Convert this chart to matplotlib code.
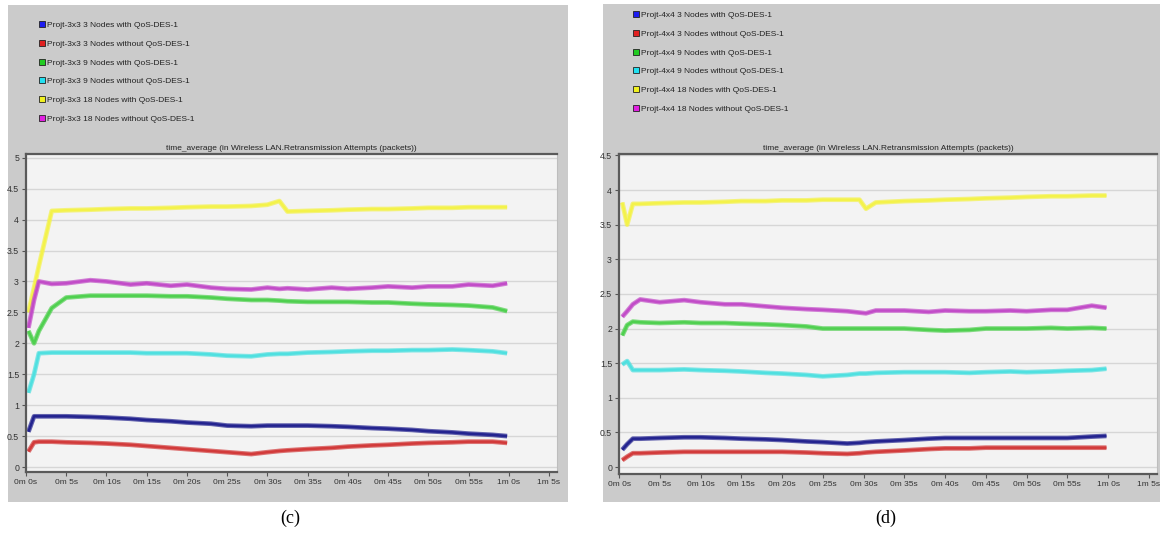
import matplotlib
matplotlib.use('Agg')
import matplotlib.pyplot as plt
from matplotlib.lines import Line2D
from matplotlib.patches import Rectangle

# == Data =====================================================
# time stamps in seconds, one grid per scenario
t_c = [0.3, 1.0, 1.6, 3.2, 5, 8, 10, 13, 15, 18, 20, 23, 25, 28,
       30, 31.5, 32.5, 35, 38, 40, 43, 45, 48, 50, 53, 55, 58, 59.8]
t_d = [0.4, 1.0, 1.7, 2.6, 5, 8, 10, 13, 15, 18, 20, 23, 25, 28,
       29.5, 30.3, 31.5, 35, 38, 40, 43, 45, 48, 50, 53, 55, 58, 59.8]

# 3x3 grid: retransmission attempts (packets)
blue_c = [0.57, 0.82, 0.82, 0.82, 0.82, 0.81, 0.80, 0.78, 0.76, 0.74, 0.72, 0.70, 0.67, 0.66,
          0.67, 0.67, 0.67, 0.67, 0.66, 0.65, 0.63, 0.62, 0.60, 0.58, 0.56, 0.54, 0.52, 0.50]
red_c = [0.25, 0.40, 0.41, 0.41, 0.40, 0.39, 0.38, 0.36, 0.34, 0.31, 0.29, 0.26, 0.24, 0.21,
         0.24, 0.26, 0.27, 0.29, 0.31, 0.33, 0.35, 0.36, 0.38, 0.39, 0.40, 0.41, 0.41, 0.39]
green_c = [2.20, 2.00, 2.20, 2.57, 2.74, 2.77, 2.77, 2.77, 2.77, 2.76, 2.76, 2.74, 2.72, 2.70,
           2.70, 2.69, 2.68, 2.67, 2.67, 2.67, 2.66, 2.66, 2.64, 2.63, 2.62, 2.61, 2.58, 2.52]
cyan_c = [1.20, 1.50, 1.84, 1.85, 1.85, 1.85, 1.85, 1.85, 1.84, 1.84, 1.84, 1.82, 1.80, 1.79,
          1.82, 1.83, 1.83, 1.85, 1.86, 1.87, 1.88, 1.88, 1.89, 1.89, 1.90, 1.89, 1.87, 1.84]
yellow_c = [2.50, 2.90, 3.25, 4.14, 4.15, 4.16, 4.17, 4.18, 4.18, 4.19, 4.20, 4.21, 4.21, 4.22,
            4.24, 4.30, 4.13, 4.14, 4.15, 4.16, 4.17, 4.17, 4.18, 4.19, 4.19, 4.20, 4.20, 4.20]
magenta_c = [2.25, 2.70, 3.00, 2.96, 2.97, 3.02, 3.00, 2.95, 2.97, 2.93, 2.95, 2.90, 2.88, 2.87,
             2.90, 2.88, 2.89, 2.87, 2.90, 2.88, 2.90, 2.92, 2.90, 2.92, 2.92, 2.95, 2.93, 2.97]

# 4x4 grid: retransmission attempts (packets)
blue_d = [0.25, 0.33, 0.41, 0.41, 0.42, 0.43, 0.43, 0.42, 0.41, 0.40, 0.39, 0.37, 0.36, 0.34,
          0.35, 0.36, 0.37, 0.39, 0.41, 0.42, 0.42, 0.42, 0.42, 0.42, 0.42, 0.42, 0.44, 0.45]
red_d = [0.10, 0.15, 0.20, 0.20, 0.21, 0.22, 0.22, 0.22, 0.22, 0.22, 0.22, 0.21, 0.20, 0.19,
         0.20, 0.21, 0.22, 0.24, 0.26, 0.27, 0.27, 0.28, 0.28, 0.28, 0.28, 0.28, 0.28, 0.28]
green_d = [1.90, 2.05, 2.10, 2.09, 2.08, 2.09, 2.08, 2.08, 2.07, 2.06, 2.05, 2.03, 2.00, 2.00,
           2.00, 2.00, 2.00, 2.00, 1.98, 1.97, 1.98, 2.00, 2.00, 2.00, 2.01, 2.00, 2.01, 2.00]
cyan_d = [1.48, 1.53, 1.40, 1.40, 1.40, 1.41, 1.40, 1.39, 1.38, 1.36, 1.35, 1.33, 1.31, 1.33,
          1.35, 1.35, 1.36, 1.37, 1.37, 1.37, 1.36, 1.37, 1.38, 1.37, 1.38, 1.39, 1.40, 1.42]
yellow_d = [3.82, 3.50, 3.80, 3.80, 3.81, 3.82, 3.82, 3.83, 3.84, 3.84, 3.85, 3.85, 3.86, 3.86,
            3.86, 3.73, 3.82, 3.84, 3.85, 3.86, 3.87, 3.88, 3.89, 3.90, 3.91, 3.91, 3.92, 3.92]
magenta_d = [2.17, 2.25, 2.35, 2.42, 2.38, 2.41, 2.38, 2.35, 2.35, 2.32, 2.30, 2.28, 2.27, 2.25,
             2.23, 2.22, 2.26, 2.26, 2.24, 2.26, 2.25, 2.25, 2.26, 2.25, 2.27, 2.27, 2.33, 2.30]

labels_c = ['Projt-3x3 3 Nodes with QoS-DES-1', 'Projt-3x3 3 Nodes without QoS-DES-1',
            'Projt-3x3 9 Nodes with QoS-DES-1', 'Projt-3x3 9 Nodes without QoS-DES-1',
            'Projt-3x3 18 Nodes with QoS-DES-1', 'Projt-3x3 18 Nodes without QoS-DES-1']
labels_d = ['Projt-4x4 3 Nodes with QoS-DES-1', 'Projt-4x4 3 Nodes without QoS-DES-1',
            'Projt-4x4 9 Nodes with QoS-DES-1', 'Projt-4x4 9 Nodes without QoS-DES-1',
            'Projt-4x4 18 Nodes with QoS-DES-1', 'Projt-4x4 18 Nodes without QoS-DES-1']

x_ticks = [0, 5, 10, 15, 20, 25, 30, 35, 40, 45, 50, 55, 60, 65]
x_ticklabels = ['0m 0s', '0m 5s', '0m 10s', '0m 15s', '0m 20s', '0m 25s', '0m 30s',
                '0m 35s', '0m 40s', '0m 45s', '0m 50s', '0m 55s', '1m 0s', '1m 5s']
title = 'time_average (in Wireless LAN.Retransmission Attempts (packets))'

# line colour / legend square colour
line_cols = ['#23238f', '#d23a3a', '#4fd04f', '#4fe0e0', '#f4f24a', '#c24cc8']
key_cols = ['#1c1cf0', '#e02020', '#22cc22', '#22e0f0', '#f0f020', '#e020e0']

SANS = ['Liberation Sans', 'DejaVu Sans']
GREY = '#cbcbcb'

# == Plotting =================================================
def draw_panel(fig, rect, frame, t, series, labels, yticks, ylim, leg_xy, caption, cap_xy):
    # grey window behind the chart
    fig.patches.append(Rectangle(frame[:2], frame[2], frame[3], transform=fig.transFigure,
                                 facecolor=GREY, edgecolor='none', zorder=-5))
    ax = fig.add_axes(rect)
    ax.set_facecolor('#f3f3f3')
    for vals, col in zip(series, line_cols):
        ax.plot(t, vals, color=col, lw=3.4, alpha=0.7, solid_capstyle='butt')
        ax.plot(t, vals, color=col, lw=1.8, solid_capstyle='butt')
    ax.set_xlim(0, 66)
    ax.set_ylim(*ylim)
    ax.set_yticks(yticks)
    ax.set_yticklabels([('%g' % v) for v in yticks], family=SANS, fontsize=6.3, color='#333333')
    ax.set_xticks(x_ticks)
    ax.set_xticklabels(x_ticklabels, family=SANS, fontsize=6, color='#333333')
    ax.tick_params(length=3, width=0.8, colors='#555555', pad=2)
    ax.tick_params(labelcolor='#333333')
    ax.grid(axis='y', color='#d6d6d6', lw=1)
    ax.set_axisbelow(True)
    for side in ['top', 'left', 'bottom']:
        ax.spines[side].set_color('#5a5a5a')
        ax.spines[side].set_linewidth(1.6)
    ax.spines['right'].set_color('#bdbdbd')
    ax.set_title(title, family=SANS, fontsize=6, color='#222222', pad=3, x=0.5)
    # legend with small square keys
    handles = [Line2D([], [], ls='none', marker='s', markersize=5, markerfacecolor=c,
                      markeredgecolor='#222222', markeredgewidth=0.6) for c in key_cols]
    fig.legend(handles, labels, loc='upper left', bbox_to_anchor=leg_xy, frameon=False,
               prop={'family': SANS, 'size': 6}, labelspacing=1.32, handlelength=0.6,
               handletextpad=0.4, borderpad=0, borderaxespad=0, labelcolor='#222222')
    fig.text(cap_xy[0], cap_xy[1], caption, family='Liberation Serif', fontsize=13,
             ha='center', va='center')
    return ax


fig = plt.figure(figsize=(11.66, 5.33), dpi=100)
W, H = 1166.0, 533.0

draw_panel(fig, [26 / W, 1 - 472 / H, 531 / W, 318 / H], [8 / W, 1 - 502 / H, 560 / W, 497 / H],
           t_c, [blue_c, red_c, green_c, cyan_c, yellow_c, magenta_c], labels_c,
           [0, 0.5, 1, 1.5, 2, 2.5, 3, 3.5, 4, 4.5, 5], (-0.08, 5.06),
           (39 / W, 1 - 21 / H), '(c)', (290 / W, 1 - 518 / H))
draw_panel(fig, [619 / W, 1 - 474 / H, 538 / W, 320 / H], [603 / W, 1 - 502 / H, 557 / W, 498 / H],
           t_d, [blue_d, red_d, green_d, cyan_d, yellow_d, magenta_d], labels_d,
           [0, 0.5, 1, 1.5, 2, 2.5, 3, 3.5, 4, 4.5], (-0.1, 4.52),
           (633 / W, 1 - 11 / H), '(d)', (886 / W, 1 - 518 / H))

fig.savefig('out.png', dpi=100, facecolor='white')
